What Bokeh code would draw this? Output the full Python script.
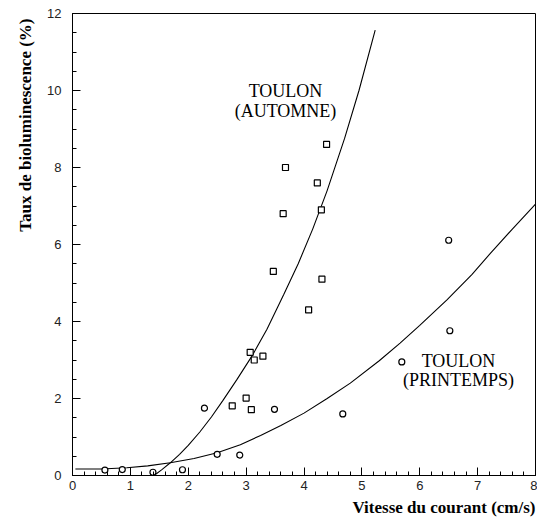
from bokeh.plotting import figure
from bokeh.models import Range1d, FixedTicker, Label, Title
from bokeh.embed import file_html
from bokeh.resources import INLINE

# Autumn (squares)
aut_x = [2.76, 3.00, 3.09, 3.07, 3.14, 3.29, 3.47, 3.64, 3.68, 4.08, 4.23, 4.30, 4.31, 4.39]
aut_y = [1.81, 2.01, 1.71, 3.20, 3.00, 3.10, 5.30, 6.80, 8.00, 4.30, 7.60, 6.90, 5.10, 8.60]

# Spring (circles)
spr_x = [0.56, 0.86, 1.39, 1.90, 2.28, 2.50, 2.89, 3.49, 4.67, 5.69, 6.50, 6.52]
spr_y = [0.14, 0.155, 0.085, 0.15, 1.75, 0.55, 0.53, 1.72, 1.60, 2.95, 6.11, 3.76]

# Fitted curves
aut_fit_x = [1.41, 1.55, 1.69, 1.85, 2.0, 2.2, 2.4, 2.6, 2.84, 3.1, 3.36, 3.65, 3.9, 4.15, 4.4, 4.7, 4.95, 5.23]
aut_fit_y = [0.0, 0.16, 0.33, 0.55, 0.78, 1.13, 1.52, 1.95, 2.49, 3.10, 3.80, 4.70, 5.50, 6.40, 7.40, 8.75, 10.0, 11.57]

spr_fit_x = [0.05, 0.5, 0.94, 1.3, 1.69, 2.1, 2.5, 2.9, 3.25, 3.6, 4.0, 4.4, 4.8, 5.3, 5.66, 6.0, 6.47, 6.9, 7.22, 7.6, 8.0]
spr_fit_y = [0.17, 0.17, 0.20, 0.25, 0.33, 0.44, 0.59, 0.80, 1.04, 1.30, 1.62, 2.0, 2.40, 2.98, 3.44, 3.9, 4.56, 5.22, 5.77, 6.40, 7.05]

x_ticks = [0, 1, 2, 3, 4, 5, 6, 7, 8]
x_minor = [i * 0.2 for i in range(41)]
y_ticks = [0, 2, 4, 6, 8, 10, 12]
y_minor = [i * 0.5 for i in range(25)]

p = figure(width=537, height=519, output_backend="svg", toolbar_location=None,
           x_range=Range1d(0, 8), y_range=Range1d(0, 12),
           min_border_left=72, min_border_top=13, min_border_right=2, min_border_bottom=43)
p.background_fill_color = "white"
p.border_fill_color = "white"
p.outline_line_color = "black"
p.outline_line_width = 1
p.grid.visible = False

for ax, tk, mn in ((p.xaxis[0], x_ticks, x_minor), (p.yaxis[0], y_ticks, y_minor)):
    ax.ticker = FixedTicker(ticks=tk, minor_ticks=mn)
    ax.major_tick_in = 8
    ax.major_tick_out = 0
    ax.minor_tick_in = 4
    ax.minor_tick_out = 0
    ax.axis_line_color = "black"
    ax.major_tick_line_color = "black"
    ax.minor_tick_line_color = "black"
    ax.major_label_text_font = "Liberation Sans"
    ax.major_label_text_font_size = "13px"
    ax.major_label_text_color = "#222222"
p.yaxis.major_label_standoff = 11
p.xaxis.major_label_standoff = 5

p.line(aut_fit_x, aut_fit_y, line_color="black", line_width=1.1)
p.line(spr_fit_x, spr_fit_y, line_color="black", line_width=1.1)

p.scatter(aut_x, aut_y, marker="square", size=6, fill_color="white", line_color="black", line_width=1.2)
p.scatter(spr_x, spr_y, marker="circle", size=6, fill_color="white", line_color="black", line_width=1.2)

serif = "Liberation Serif"
for txt, x, y in (("TOULON", 3.68, 10.0), ("(AUTOMNE)", 3.68, 9.48),
                  ("TOULON", 6.67, 2.98), ("(PRINTEMPS)", 6.67, 2.49)):
    p.add_layout(Label(x=x, y=y, text=txt, text_font=serif, text_font_size="18px",
                       text_align="center", text_baseline="middle", text_color="black"))

xt = Title(text="Vitesse du courant (cm/s)", align="right", text_font=serif,
           text_font_style="bold", text_font_size="17px", text_color="black", standoff=6)
p.add_layout(xt, "below")
yt = Title(text="Taux de bioluminescence (%)", align="right", text_font=serif,
           text_font_style="bold", text_font_size="17px", text_color="black", offset=5,
           standoff=20)
p.add_layout(yt, "left")

open("out.html", "w").write(file_html(p, INLINE))
